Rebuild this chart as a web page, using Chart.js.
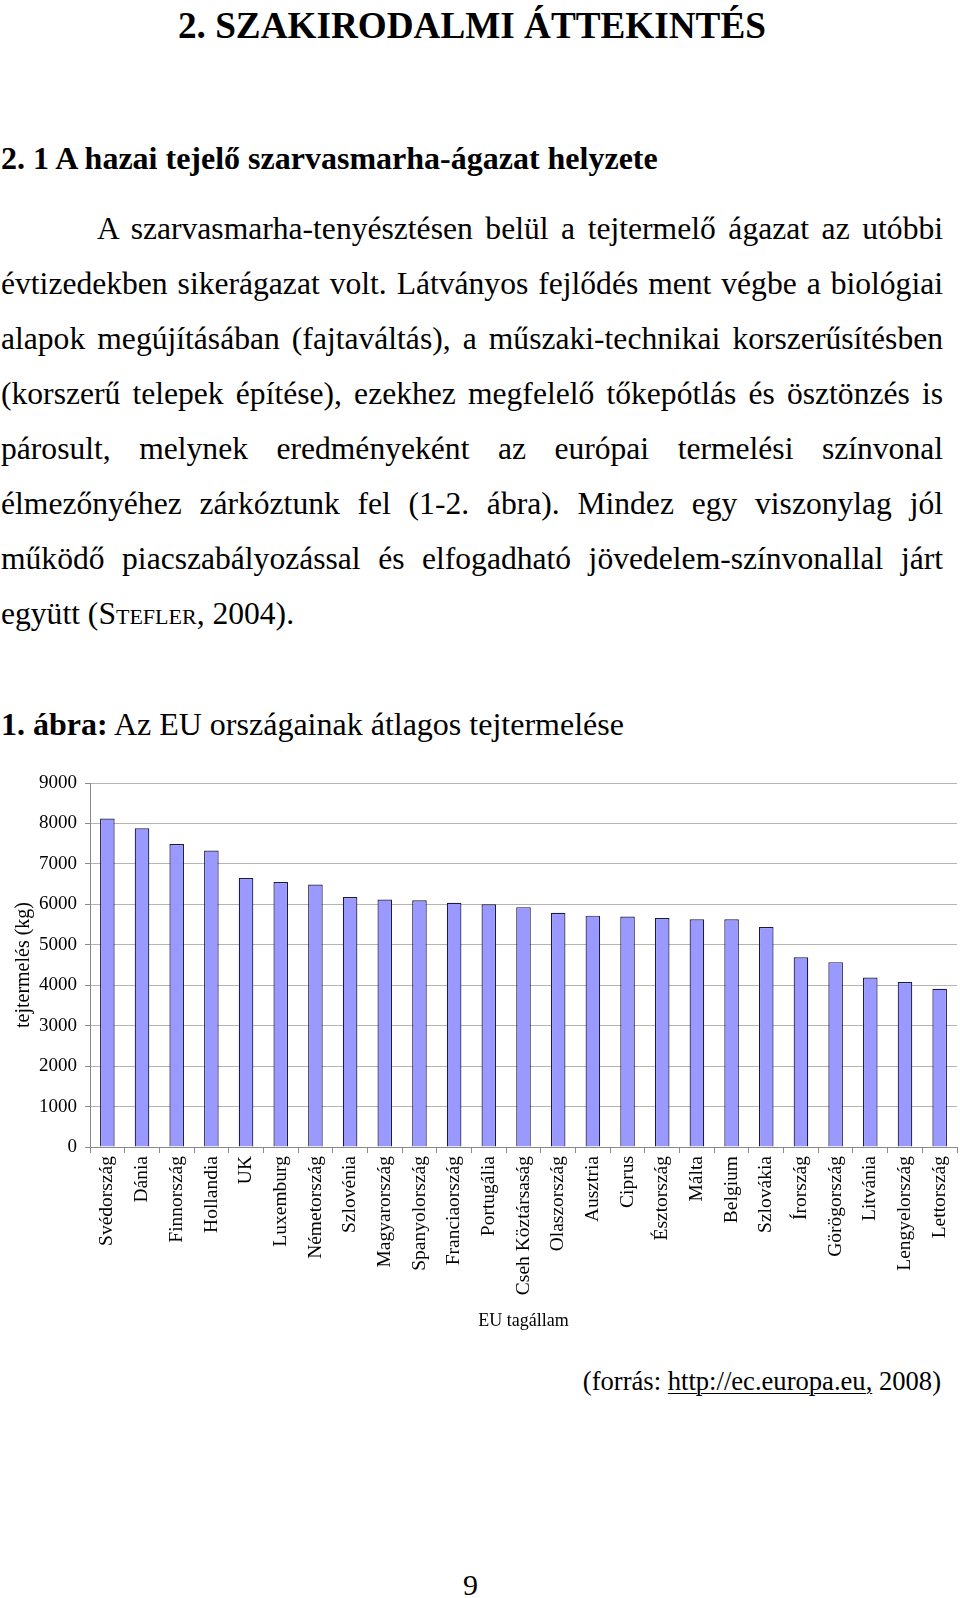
<!DOCTYPE html>
<html lang="hu">
<head>
<meta charset="utf-8">
<title>Az EU országainak átlagos tejtermelése</title>
<script src="https://cdn.jsdelivr.net/npm/chart.js@4.4.1/dist/chart.umd.min.js"></script>
<style>
  html, body { margin: 0; padding: 0; background: #fff; }
  body {
    width: 960px; height: 1598px; position: relative; overflow: hidden;
    font-family: 'Liberation Serif', 'Times New Roman', serif; color: #000;
  }
  .abs { position: absolute; white-space: nowrap; }
  #page-title { left: 178px; top: 6.5px; font-size: 37.2px; line-height: 37px; font-weight: bold; }
  #section-title { left: 1px; top: 142px; font-size: 32px; line-height: 32px; font-weight: bold; }
  #para { position: absolute; left: 1px; top: 200.6px; width: 942px; font-size: 31.6px; line-height: 55.1px; }
  #para div { text-align: justify; text-align-last: justify; }
  #para div.first { text-indent: 96px; }
  #para div.last { text-align-last: left; }
  .sc { font-variant: small-caps; }
  #fig-title { left: 1px; top: 707.5px; font-size: 32px; line-height: 32px; }
  #chart-box { position: absolute; left: 0; top: 740px; width: 960px; height: 600px; }
  #source { right: 19px; top: 1367.5px; font-size: 26.6px; line-height: 26.6px; }
  #source u { text-decoration-thickness: 1px; text-underline-offset: 3px; }
  #page-no { left: 463px; top: 1570px; font-size: 30px; line-height: 30px; }
</style>
</head>
<body>

<div id="page-title" class="abs">2. SZAKIRODALMI ÁTTEKINTÉS</div>
<div id="section-title" class="abs">2. 1 A hazai tejelő szarvasmarha-ágazat helyzete</div>

<div id="para">
  <div class="first">A szarvasmarha-tenyésztésen belül a tejtermelő ágazat az utóbbi</div>
  <div>évtizedekben sikerágazat volt. Látványos fejlődés ment végbe a biológiai</div>
  <div>alapok megújításában (fajtaváltás), a műszaki-technikai korszerűsítésben</div>
  <div>(korszerű telepek építése), ezekhez megfelelő tőkepótlás és ösztönzés is</div>
  <div>párosult, melynek eredményeként az európai termelési színvonal</div>
  <div>élmezőnyéhez zárkóztunk fel (1-2. ábra). Mindez egy viszonylag jól</div>
  <div>működő piacszabályozással és elfogadható jövedelem-színvonallal járt</div>
  <div class="last">együtt (<span class="sc">Stefler</span>, 2004).</div>
</div>

<div id="fig-title" class="abs"><b>1. ábra:</b> Az EU országainak átlagos tejtermelése</div>

<div id="chart-box"><canvas id="milk-chart"></canvas></div>

<div id="source" class="abs">(forrás: <u>http://ec.europa.eu,</u> 2008)</div>
<div id="page-no" class="abs">9</div>

<script>
// ──────────────────────────────────────────────────
// Átlagos tejtermelés EU tagállamonként (kg)
// ──────────────────────────────────────────────────

const countries = [
  'Svédország', 'Dánia', 'Finnország', 'Hollandia', 'UK', 'Luxemburg',
  'Németország', 'Szlovénia', 'Magyarország', 'Spanyolország', 'Franciaország',
  'Portugália', 'Cseh Köztársaság', 'Olaszország', 'Ausztria', 'Ciprus',
  'Észtország', 'Málta', 'Belgium', 'Szlovákia', 'Írország', 'Görögország',
  'Litvánia', 'Lengyelország', 'Lettország'
];

const milkYield = [
  8120, 7880, 7490, 7330, 6650, 6550,
  6490, 6180, 6120, 6100, 6040,
  6000, 5930, 5790, 5720, 5700,
  5660, 5630, 5630, 5440, 4690, 4570,
  4190, 4080, 3910
];

const yMin = 0;
const yMax = 9000;
const yStep = 1000;

const xTitle = 'EU tagállam';
const yTitle = 'tejtermelés (kg)';

const SERIF = "'Liberation Serif', 'Times New Roman', serif";

document.addEventListener('DOMContentLoaded', () => {
  renderMilkChart();
});

// ─── Bar chart ───────────────────────────────────
function renderMilkChart() {
  const ctx = document.getElementById('milk-chart');
  if (!ctx) return;

  Chart.defaults.font.family = SERIF;
  Chart.defaults.color = '#000';

  new Chart(ctx, {
    type: 'bar',
    data: {
      labels: countries,
      datasets: [{
        label: yTitle,
        data: milkYield,
        backgroundColor: '#9999ff',
        borderColor: '#1a1a44',
        borderWidth: 1.2,
        barPercentage: 0.42,
        categoryPercentage: 1.0,
      }],
    },
    options: {
      responsive: true,
      maintainAspectRatio: false,
      animation: false,
      layout: { padding: { top: 43, right: 3, bottom: 0, left: 0 } },
      plugins: {
        legend: { display: false },
        tooltip: { enabled: false },
      },
      scales: {
        x: {
          grid: {
            drawOnChartArea: false,
            drawTicks: true,
            tickLength: 6,
            offset: true,
            color: '#8a8a8a',
          },
          border: { color: '#8a8a8a', width: 1 },
          ticks: {
            autoSkip: false,
            minRotation: 90,
            maxRotation: 90,
            padding: 3,
            font: { size: 19.5 },
            color: '#000',
          },
          title: {
            display: true,
            text: xTitle,
            font: { size: 18 },
            color: '#000',
            padding: { top: 0, bottom: 8 },
          },
          afterFit: (s) => {
            s.height = 193;
            s.paddingLeft = 0;
            s.paddingRight = 0;
          },
        },
        y: {
          min: yMin,
          max: yMax,
          grid: {
            color: '#b4b4b4',
            tickColor: '#8a8a8a',
            tickLength: 5,
            lineWidth: 1,
          },
          border: { color: '#8a8a8a', width: 1 },
          ticks: {
            stepSize: yStep,
            padding: 8,
            font: { size: 19 },
            color: '#000',
            callback: (v) => String(v),   // no thousands separator
          },
          title: {
            display: true,
            text: yTitle,
            font: { size: 20 },
            color: '#000',
            padding: { top: 11.5, bottom: 0 },
          },
          afterFit: (s) => { s.width = 90; },
        },
      },
    },
  });
}
</script>
</body>
</html>
